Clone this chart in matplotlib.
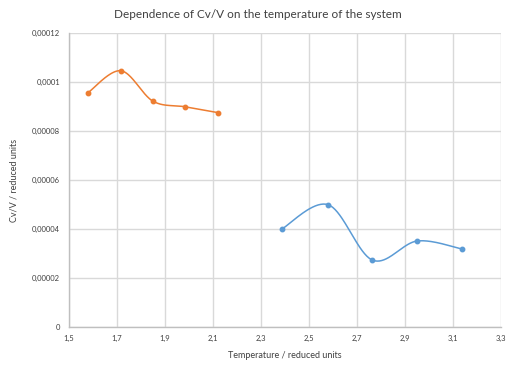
import numpy as np
import matplotlib
matplotlib.use("Agg")
import matplotlib.pyplot as plt
from matplotlib.ticker import FuncFormatter, FixedLocator, MultipleLocator

# Data
orange_T = [1.581, 1.718, 1.851, 1.984, 2.122]
orange_cv = [9.56e-5, 1.046e-4, 9.22e-5, 8.99e-5, 8.75e-5]
blue_T = [2.388, 2.581, 2.765, 2.951, 3.138]
blue_cv = [4.00e-5, 4.99e-5, 2.73e-5, 3.51e-5, 3.18e-5]
x_ticks = [1.5, 1.7, 1.9, 2.1, 2.3, 2.5, 2.7, 2.9, 3.1, 3.3]

title = "Dependence of Cv/V on the temperature of the system"
xlabel = "Temperature / reduced units"
ylabel = "Cv/V / reduced units"

plt.rcParams['font.family'] = ['Lato', 'DejaVu Sans']

def smooth(x, y, n=40):
    # Catmull-Rom style Bezier smoothing (like Excel smoothed lines)
    x = np.asarray(x, float); y = np.asarray(y, float)
    P = np.column_stack([x, y])
    ext = np.vstack([P[0], P, P[-1]])
    out = []
    t = np.linspace(0, 1, n)[:, None]
    for i in range(len(P) - 1):
        p0, p1, p2, p3 = ext[i], ext[i + 1], ext[i + 2], ext[i + 3]
        c1 = p1 + (p2 - p0) / 6
        c2 = p2 - (p3 - p1) / 6
        seg = ((1 - t) ** 3) * p1 + 3 * ((1 - t) ** 2) * t * c1 + 3 * (1 - t) * t ** 2 * c2 + t ** 3 * p2
        out.append(seg)
    out = np.vstack(out)
    return out[:, 0], out[:, 1]

W, H = 517, 367
fig = plt.figure(figsize=(W / 100, H / 100), dpi=100)
ax = fig.add_axes([68.5 / W, (H - 327) / H, (501 - 68.5) / W, (327 - 33) / H])

for xs, ys, c in [(orange_T, orange_cv, '#ED7D31'), (blue_T, blue_cv, '#5B9BD5')]:
    sx, sy = smooth(xs, ys)
    ax.plot(sx, sy, color=c, lw=1.1, solid_capstyle='round')
    ax.plot(xs, ys, 'o', color=c, ms=3.2, mec=c)

ax.set_xlim(1.5, 3.3)
ax.set_ylim(0, 0.00012)
ax.xaxis.set_major_locator(FixedLocator(x_ticks))
ax.yaxis.set_major_locator(MultipleLocator(0.00002))

def fx(v, pos):
    return f"{v:.1f}".replace('.', ',')

def fy(v, pos):
    if abs(v) < 1e-12:
        return "0"
    s = f"{v:.5f}".rstrip('0').rstrip('.')
    return s.replace('.', ',')

ax.xaxis.set_major_formatter(FuncFormatter(fx))
ax.yaxis.set_major_formatter(FuncFormatter(fy))

ax.grid(True, color='#d9d9d9', lw=1)
ax.set_axisbelow(True)
for s in ['top', 'right']:
    ax.spines[s].set_visible(False)
for s in ['left', 'bottom']:
    ax.spines[s].set_color('#bfbfbf')
    ax.spines[s].set_linewidth(1)
ax.tick_params(length=0, labelsize=5.5, labelcolor='#404040', pad=6)

ax.set_xlabel(xlabel, fontsize=6.5, color='#404040', labelpad=6)
ax.set_ylabel(ylabel, fontsize=6.5, color='#404040', labelpad=10)
fig.text(0.5 * (117 + 398) / W, 1 - 15 / H, title, ha='center', va='center', fontsize=8.5, color='#404040')

fig.savefig("out.png", dpi=100, facecolor='white')
